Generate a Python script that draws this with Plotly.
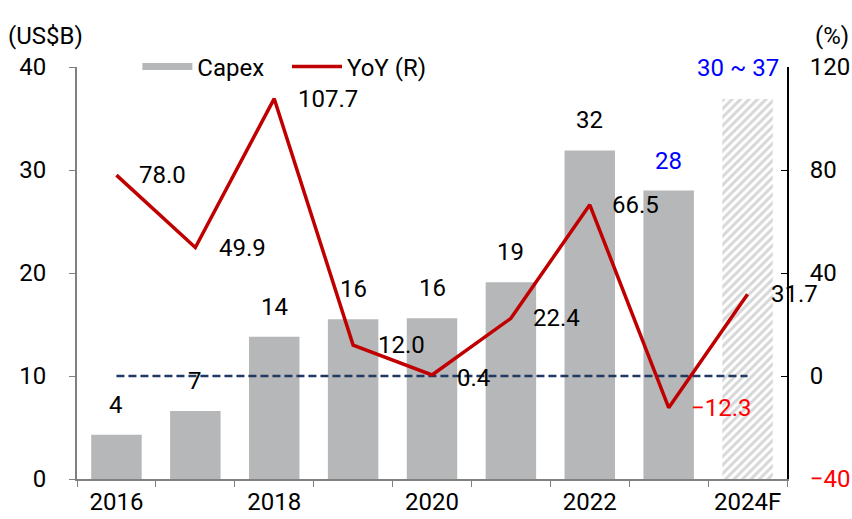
import plotly.graph_objects as go

years = ['2016', '2017', '2018', '2019', '2020', '2021', '2022', '2023', '2024F']
tick_text = ['2016', '', '2018', '', '2020', '', '2022', '', '2024F']
capex = [4.3, 6.6, 13.8, 15.5, 15.6, 19.1, 31.9, 28.0]
capex_fcst = 36.9
capex_labels = ['4', '7', '14', '16', '16', '19', '32', '28']
fcst_label = '30 ~ 37'
yoy = [78.0, 49.9, 107.7, 12.0, 0.4, 22.4, 66.5, -12.3, 31.7]
yoy_labels = ['78.0', '49.9', '107.7', '12.0', '0.4', '22.4', '66.5', '\u221212.3', '31.7']

# label offsets (px) relative to each YoY point
yoy_shift = [(46, 0), (47, 0), (54, 0), (48, 0), (41, -3), (46, 0), (46, 0), (53, 0), (47, 0)]

COLORS = {
    'bar': '#b6b7b9',
    'hatch': '#aeafb1',
    'line': '#c00000',
    'dash': '#1f3864',
    'blue': '#0000ff',
    'red': '#ff0000',
    'axis_gray': '#808080',
}
FONT = 'Roboto, Noto Sans, Arial, sans-serif'
FS = 24
NB = '\u00a0'

fig = go.Figure()

fig.add_trace(go.Bar(
    x=years[:8], y=capex, name='Capex',
    marker=dict(color=COLORS['bar'], line=dict(width=0)),
    width=0.64, showlegend=False
))
fig.add_trace(go.Bar(
    x=[years[8]], y=[capex_fcst], name='Capex F',
    marker=dict(color='white', line=dict(width=0),
                pattern=dict(shape='/', fgcolor=COLORS['hatch'], bgcolor='white',
                             size=6, solidity=0.5)),
    width=0.64, showlegend=False
))
# legend proxy for the bars
fig.add_trace(go.Scatter(
    x=[years[0]], y=[None], mode='lines', name='Capex' + NB * 3,
    line=dict(color=COLORS['bar'], width=7)
))
fig.add_trace(go.Scatter(
    x=[years[0], years[-1]], y=[0, 0], yaxis='y2', mode='lines',
    line=dict(color=COLORS['dash'], width=2.5, dash='8px,4px'),
    showlegend=False, hoverinfo='skip'
))
fig.add_trace(go.Scatter(
    x=years, y=yoy, yaxis='y2', mode='lines', name='YoY (R)',
    line=dict(color=COLORS['line'], width=3.5)
))

# category axes take annotation x as the category index
annotations = []
for i, (v, t) in enumerate(zip(capex, capex_labels)):
    annotations.append(dict(
        x=i, y=v, xref='x', yref='y', text=t, showarrow=False,
        yshift=30, font=dict(size=FS, color=COLORS['blue'] if years[i] == '2023' else 'black')
    ))
annotations.append(dict(
    x=8, y=capex_fcst, xref='x', yref='y', text=fcst_label, showarrow=False,
    xshift=-10, yshift=31, font=dict(size=FS, color=COLORS['blue'])
))
for i, (v, t, (dx, dy)) in enumerate(zip(yoy, yoy_labels, yoy_shift)):
    annotations.append(dict(
        x=i, y=v, xref='x', yref='y2', text=t, showarrow=False,
        xshift=dx, yshift=dy,
        font=dict(size=FS, color=COLORS['red'] if v < 0 else 'black')
    ))
annotations.append(dict(
    x=-0.1, y=1.115, xref='paper', yref='paper', text='(US$B)', showarrow=False,
    xanchor='left', font=dict(size=FS)
))
annotations.append(dict(
    x=1.063, y=1.115, xref='paper', yref='paper', text='(%)', showarrow=False,
    xanchor='center', font=dict(size=FS)
))

fig.update_layout(
    width=852, height=519,
    font=dict(family=FONT, size=FS, color='black'),
    paper_bgcolor='white', plot_bgcolor='white',
    margin=dict(l=77, r=65, t=67, b=40, autoexpand=False),
    barmode='overlay',
    showlegend=True,
    legend=dict(orientation='h', x=0.085, y=1.0, yanchor='middle', xanchor='left',
                bgcolor='rgba(0,0,0,0)', font=dict(size=FS), itemwidth=50,
                tracegroupgap=0),
    xaxis=dict(
        type='category', categoryorder='array', categoryarray=years,
        tickmode='array', tickvals=years, ticktext=tick_text,
        tickson='boundaries', ticks='outside', ticklen=6, tickcolor=COLORS['axis_gray'],
        showline=True, linecolor=COLORS['axis_gray'], linewidth=2,
        showgrid=False, range=[-0.5, 8.5], automargin=False
    ),
    yaxis=dict(
        range=[0, 40], tickvals=[0, 10, 20, 30, 40],
        ticks='outside', ticklen=6, tickcolor=COLORS['axis_gray'],
        showline=True, linecolor=COLORS['axis_gray'], linewidth=2,
        showgrid=False, zeroline=False, ticklabelstandoff=18, automargin=False
    ),
    yaxis2=dict(
        overlaying='y', side='right', range=[-40, 120],
        tickvals=[-40, 0, 40, 80, 120],
        ticktext=['<span style="color:#ff0000">\u221240</span>', '0', '40', '80', '120'],
        ticks='inside', ticklen=6, tickcolor='black',
        showline=True, linecolor='black', linewidth=2,
        showgrid=False, zeroline=False, ticklabelstandoff=16, automargin=False
    ),
    annotations=annotations
)

# drop the page's default body margin so the figure sits at the window's corner
fig.write_html('out.html', config={'displayModeBar': False},
               post_script="document.body.style.margin='0';")
